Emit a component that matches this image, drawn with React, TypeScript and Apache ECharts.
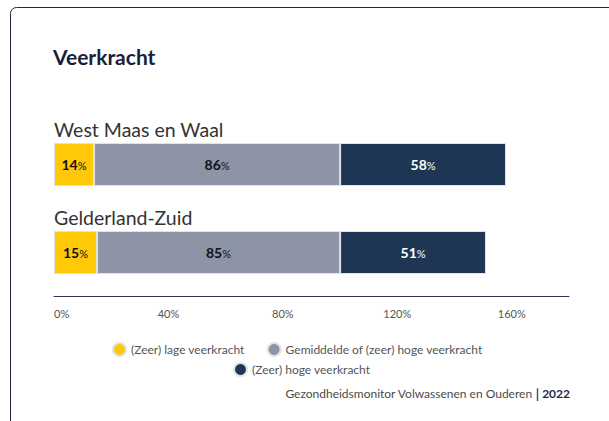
import React, { useEffect, useRef } from "react";
import * as echarts from "echarts";

const categories = ["West Maas en Waal", "Gelderland-Zuid"];
const seriesNames = [
  "(Zeer) lage veerkracht",
  "Gemiddelde of (zeer) hoge veerkracht",
  "(Zeer) hoge veerkracht",
];
const lowValues = [14, 15];
const averageValues = [86, 85];
const highValues = [58, 51];
const colors = ["#ffc907", "#8d94a6", "#1e3553"];
const labelColors = ["#111111", "#111111", "#ffffff"];
const titleText = "Veerkracht";
const sourceText = "Gezondheidsmonitor Volwassenen en Ouderen";
const sourceYear = "2022";

const FONT = "Lato, 'Noto Sans', sans-serif";

export default function App() {
  const ref = useRef<HTMLDivElement>(null);
  useEffect(() => {
    document.body.style.margin = "0";
    const chart = echarts.init(ref.current!, null, { renderer: "svg" });
    const data = [lowValues, averageValues, highValues];
    const series = data.map((vals, i) => ({
      name: seriesNames[i],
      type: "bar",
      stack: "total",
      barWidth: 43,
      data: vals,
      itemStyle: { color: colors[i], borderColor: "#dfe3ea", borderWidth: 1 },
      label: {
        show: true,
        position: "inside",
        formatter: (p: any) => `{n|${p.value}}{p|%}`,
        rich: {
          n: { fontFamily: FONT, fontSize: 14, fontWeight: "bold", color: labelColors[i] },
          p: { fontFamily: FONT, fontSize: 11, color: labelColors[i], padding: [2, 0, 0, 0] },
        },
      },
    }));
    const legendBase = {
      icon: "circle",
      itemWidth: 13,
      itemHeight: 13,
      itemGap: 22,
      padding: 0,
      textStyle: { fontFamily: FONT, fontSize: 12, color: "#555" },
    };
    chart.setOption({
      animation: false,
      textStyle: { fontFamily: FONT },
      title: [
        {
          text: titleText,
          left: 53,
          top: 46,
          padding: 0,
          textStyle: { fontFamily: FONT, fontSize: 21, fontWeight: "bold", color: "#1a1d3a" },
        },
        {
          text: `{a|${sourceText} }{c||}{b| ${sourceYear}}`,
          right: 39,
          top: 387,
          padding: 0,
          textStyle: {
            fontWeight: "normal",
            rich: {
              a: { fontFamily: FONT, fontSize: 12, fontWeight: "normal", color: "#4a4a4a" },
              c: { fontFamily: FONT, fontSize: 13, fontWeight: "bold", color: "#5a2a6e" },
              b: { fontFamily: FONT, fontSize: 12, fontWeight: "bold", color: "#1e2a44" },
            },
          },
        },
      ],
      graphic: [
        {
          type: "rect",
          shape: { x: 10.5, y: 7.5, width: 700, height: 500, r: 6 },
          style: { fill: "none", stroke: "#1e2a44", lineWidth: 1 },
          silent: true,
        },
      ],
      legend: [
        { ...legendBase, data: seriesNames.slice(0, 2), left: 112, top: 342 },
        { ...legendBase, data: seriesNames.slice(2), left: 233, top: 362 },
      ],
      grid: { left: 54, right: 40, top: 120.5, bottom: 124.5, containLabel: false },
      xAxis: {
        type: "value",
        min: 0,
        max: 180,
        interval: 40,
        splitLine: { show: false },
        axisTick: { show: false },
        axisLine: { show: true, lineStyle: { color: "#2c3550", width: 1 } },
        axisLabel: {
          formatter: "{value}%",
          color: "#555",
          fontSize: 11,
          margin: 11,
          showMaxLabel: false,
          alignMinLabel: "left",
        },
      },
      yAxis: {
        type: "category",
        data: categories,
        inverse: true,
        axisLine: { show: false },
        axisTick: { show: false },
        axisLabel: {
          inside: true,
          margin: 0,
          align: "left",
          verticalAlign: "bottom",
          padding: [0, 0, 25, 0],
          fontSize: 19.5,
          color: "#333",
        },
      },
      series,
    });
    return () => chart.dispose();
  }, []);
  return <div ref={ref} style={{ width: 609, height: 421 }} />;
}
